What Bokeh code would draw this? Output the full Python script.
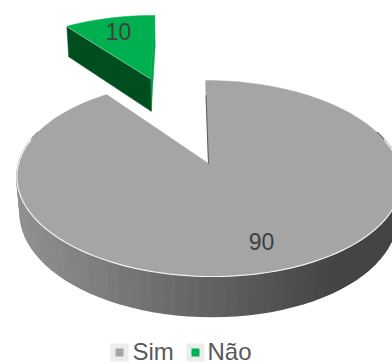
import numpy as np
from bokeh.plotting import figure
from bokeh.models import Range1d
from bokeh.embed import file_html
from bokeh.resources import INLINE
from bokeh.core.properties import value

# ---- data ----
categories = ["Sim", "Não"]
values = [90, 10]
labels = ["90", "10"]
top_colors = ["#a5a5a5", "#00b050"]
explode = [0.0, 1.08]

# ---- projection (3D pie, perspective) ----
F, D, S, C = 1073.0, 5.65, 0.504, 0.864
X0 = 0.12                   # small horizontal camera offset
CX = 208.0 - F * X0 / D
CY = 163.0
H = 0.225  # thickness


def proj(X, Y, Z):
    X = np.asarray(X, float) + X0
    Y = np.asarray(Y, float) * np.ones_like(X)
    Z = np.asarray(Z, float)
    depth = D + Z * C - Y * S
    return CX + F * X / depth, CY - F * (Y * C + Z * S) / depth


p = figure(width=392, height=364, output_backend="svg", toolbar_location=None,
           x_range=Range1d(0, 392), y_range=Range1d(364, 0),
           min_border=0, x_axis_location=None, y_axis_location=None)
p.grid.visible = False
p.outline_line_color = None
p.background_fill_color = "white"
p.border_fill_color = "white"

total = float(sum(values))
cum = np.concatenate([[0.0], np.cumsum(values)]) / total * 360.0

FONT = value("Liberation Sans")

order = [1, 0]  # back slice first
for i in order:
    a0, a1 = np.radians(cum[i]), np.radians(cum[i + 1])
    mid = 0.5 * (a0 + a1)
    ox, oz = explode[i] * np.sin(mid), explode[i] * np.cos(mid)
    th = np.linspace(a0, a1, 160)
    ax, az = ox + np.sin(th), oz + np.cos(th)

    if explode[i] > 0:
        # radial cut faces of the exploded slice
        for ang, col in ((a1, "#00a84c"), (a0, "#004d20")):
            ex, ez = ox + np.sin(ang), oz + np.cos(ang)
            tx, ty = proj([ox, ex], 0.0, [oz, ez])
            bx, by = proj([ex, ox], -H, [ez, oz])
            p.patch(list(tx) + list(bx), list(ty) + list(by),
                    fill_color=col, line_color=col, line_width=0.5)
        ex, ez = ox + np.sin(a0), oz + np.cos(a0)
        lx, ly = proj([ox, ex], 0.0, [oz, ez])
        p.line(lx, ly, line_color="#d8efe0", line_width=1.2)
    else:
        # front side wall with shading
        lo, hi = max(np.radians(70), a0), min(np.radians(290), a1)
        st = np.linspace(lo, hi, 71)
        xs, ys, cols, zs = [], [], [], []
        sx_all, _ = proj(np.sin(st), 0.0, np.cos(st))
        xmin, xmax = sx_all.min(), sx_all.max()
        for k in range(len(st) - 1):
            t2 = st[k:k + 2]
            X, Z = ox + np.sin(t2), oz + np.cos(t2)
            tx, ty = proj(X, 0.0, Z)
            bx, by = proj(X[::-1], -H, Z[::-1])
            xs.append(list(tx) + list(bx))
            ys.append(list(ty) + list(by))
            t = (tx.mean() - xmin) / (xmax - xmin)
            v = int(146 - 78 * min(1.0, t * 1.2))
            cols.append("#%02x%02x%02x" % (v, v, v))
            zs.append(np.cos(t2.mean()))
        idx = np.argsort(zs)[::-1]
        p.patches([xs[j] for j in idx], [ys[j] for j in idx],
                  fill_color=[cols[j] for j in idx], line_color=[cols[j] for j in idx],
                  line_width=1.6)

    # top face
    tx, ty = proj(np.concatenate([[ox], ax]), 0.0, np.concatenate([[oz], az]))
    p.patch(tx, ty, fill_color=top_colors[i], line_color=top_colors[i], line_width=0.5)

    if explode[i] == 0:
        # highlight along front rim
        ft = np.linspace(max(np.radians(75), a0), min(np.radians(285), a1), 120)
        fx, fy = proj(np.sin(ft), 0.0, np.cos(ft))
        p.line(fx, fy, line_color="#f2f2f2", line_width=1.2)
        # thin dark edge of the cut face
        ex, ez = np.sin(a0) * 0.8, np.cos(a0) * 0.8
        lx, ly = proj([ox, ex], 0.0, [oz, ez])
        p.line(lx, ly, line_color="#5a5a5a", line_width=1)

    # data label
    r = explode[i] + 0.76
    lx, ly = proj([r * np.sin(mid)], 0.0, [r * np.cos(mid)])
    p.text(x=[float(lx[0])], y=[float(ly[0])], text=[labels[i]],
           text_font=FONT, text_font_size="23px", text_color="#404040",
           text_align="center", text_baseline="middle")

# ---- legend ----
leg_box_x = [119, 195]
leg_text_x = [132, 207]
leg_y = 352
p.rect(x=leg_box_x, y=[leg_y] * 2, width=18, height=18, fill_color="#ececec",
       line_color=None)
p.rect(x=leg_box_x, y=[leg_y] * 2, width=8, height=8, fill_color=top_colors,
       line_color=None)
p.text(x=leg_text_x, y=[leg_y - 1] * 2, text=categories, text_font=FONT,
       text_font_size="24px", text_color="#595959", text_align="left",
       text_baseline="middle")

open("out.html", "w").write(file_html(p, INLINE))
